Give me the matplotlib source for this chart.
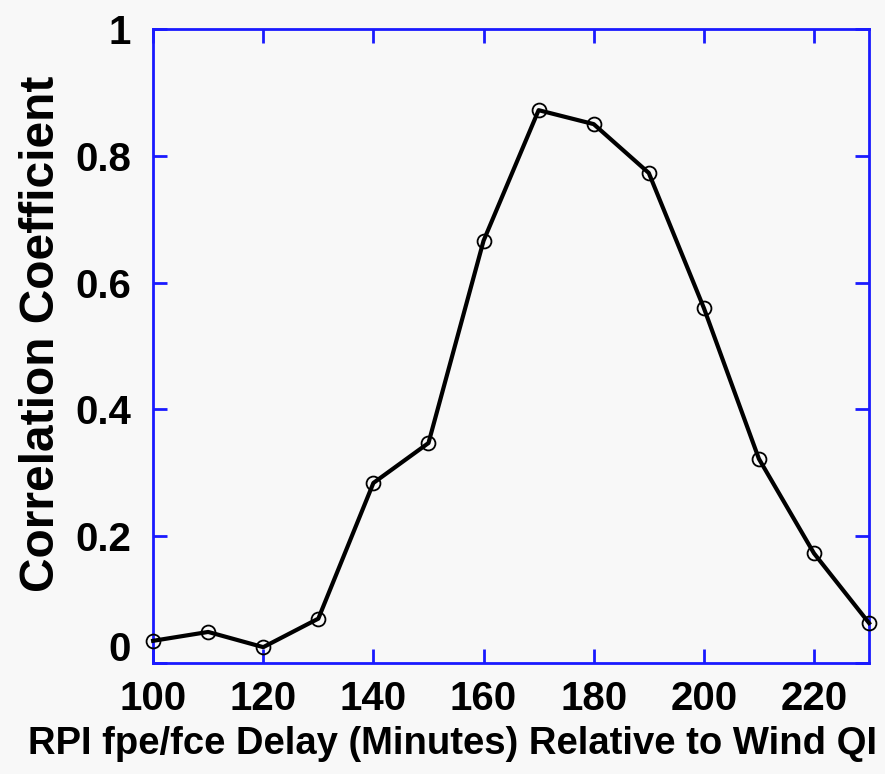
import matplotlib
matplotlib.use("Agg")
import matplotlib.pyplot as plt
import matplotlib.transforms as mtransforms

# data
delay = [100, 110, 120, 130, 140, 150, 160, 170, 180, 190, 200, 210, 220, 230]
corr = [0.035, 0.049, 0.025, 0.070, 0.284, 0.347, 0.666, 0.872, 0.850, 0.773, 0.560, 0.322, 0.173, 0.063]

xticks = [100, 120, 140, 160, 180, 200, 220]
yticks = [0, 0.2, 0.4, 0.6, 0.8, 1]
ytick_labels = ["0", "0.2", "0.4", "0.6", "0.8", "1"]

plt.rcParams['font.family'] = ['Liberation Sans', 'DejaVu Sans']
plt.rcParams['font.weight'] = 'bold'

fig = plt.figure(figsize=(8.85, 7.74), dpi=100, facecolor='#f8f8f8')
ax = fig.add_axes([0.173, 0.1434, 0.809, 0.8191])
ax.set_facecolor('#f8f8f8')

ax.plot(delay, corr, color='black', lw=3, marker='o', ms=10,
        mfc='none', mec='black', mew=1.3, clip_on=False, zorder=3)

ax.set_xlim(100, 230)
ax.set_ylim(0, 1)
ax.set_xticks(xticks)
ax.set_yticks(yticks)
ax.set_yticklabels(ytick_labels)

for s in ax.spines.values():
    s.set_color('#1a1aff')
    s.set_linewidth(2)
ax.tick_params(direction='in', length=10, width=2, color='#1a1aff',
               top=True, right=True, labelsize=29)
ax.tick_params(axis='x', pad=12)
ax.tick_params(axis='y', pad=16)
for lab in ax.get_xticklabels() + ax.get_yticklabels():
    lab.set_fontweight('bold')

# the "0" sits a little above the axis corner in the original
lab0 = ax.get_yticklabels()[0]
lab0.set_transform(lab0.get_transform() +
                   mtransforms.ScaledTranslation(0, 12 / 72, fig.dpi_scale_trans))

ax.set_xlabel("RPI fpe/fce Delay (Minutes) Relative to Wind QI",
              fontsize=27.5, fontweight='bold')
ax.set_ylabel("Correlation Coefficient", fontsize=34.5, fontweight='bold')
# label is centred on the figure, not on the axes
ax.xaxis.set_label_coords(0.418, -0.1)
ax.yaxis.set_label_coords(-0.124, 0.52)

fig.savefig("out.png", dpi=100, facecolor=fig.get_facecolor())
